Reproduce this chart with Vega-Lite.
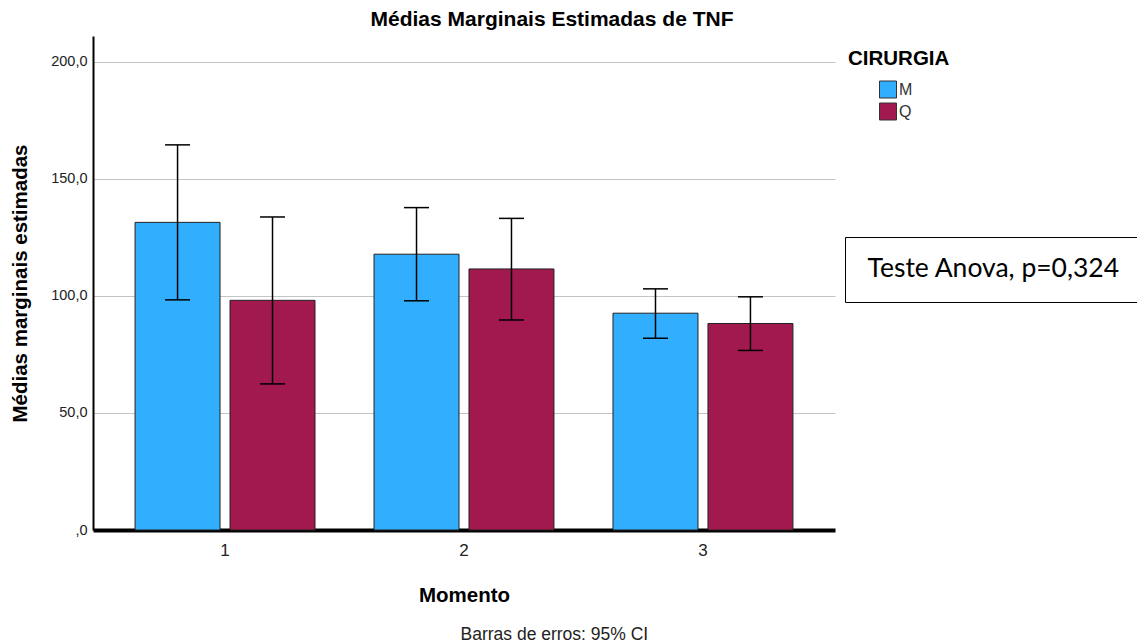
{
  "$schema": "https://vega.github.io/schema/vega-lite/v6.json",
  "width": 742,
  "height": 494,
  "autosize": {"type": "none"},
  "padding": {"left": 93, "top": 36, "right": 302, "bottom": 113},
  "background": "white",
  "title": {
    "text": "Médias Marginais Estimadas de TNF",
    "font": "Liberation Sans",
    "fontSize": 21,
    "fontWeight": "bold",
    "color": "black",
    "anchor": "middle",
    "frame": "group",
    "dx": 88,
    "offset": 6
  },
  "config": {
    "view": {"stroke": null},
    "font": "Liberation Sans"
  },
  "datasets": {
    "medias": [
      {"Momento": "1", "CIRURGIA": "M", "media": 131.4, "inferior": 98.3, "superior": 164.5},
      {"Momento": "1", "CIRURGIA": "Q", "media": 98.1, "inferior": 62.4, "superior": 133.7},
      {"Momento": "2", "CIRURGIA": "M", "media": 117.8, "inferior": 97.9, "superior": 137.7},
      {"Momento": "2", "CIRURGIA": "Q", "media": 111.5, "inferior": 89.7, "superior": 133.1},
      {"Momento": "3", "CIRURGIA": "M", "media": 92.6, "inferior": 81.9, "superior": 103.0},
      {"Momento": "3", "CIRURGIA": "Q", "media": 88.2, "inferior": 76.7, "superior": 99.6}
    ],
    "notas": [
      {"teste": "Teste Anova, p=0,324", "legenda": "Barras de erros: 95% CI"}
    ]
  },
  "resolve": {
    "scale": {"shape": "independent"},
    "legend": {"shape": "independent"}
  },
  "layer": [
    {
      "data": {"name": "medias"},
      "mark": {"type": "bar", "stroke": "#222222", "strokeWidth": 1},
      "encoding": {
        "x": {
          "field": "Momento",
          "type": "nominal",
          "scale": {"paddingInner": 0.247, "paddingOuter": 0.176},
          "axis": {
            "title": "Momento",
            "titleFont": "Liberation Sans",
            "titleFontSize": 20.5,
            "titleFontWeight": "bold",
            "titleColor": "black",
            "titlePadding": 27,
            "labelAngle": 0,
            "labelFont": "Liberation Sans",
            "labelFontSize": 17,
            "labelColor": "#222222",
            "labelPadding": 12,
            "ticks": false,
            "domainColor": "black",
            "domainWidth": 4,
            "grid": false
          }
        },
        "xOffset": {
          "field": "CIRURGIA",
          "type": "nominal",
          "scale": {"paddingInner": 0.105, "paddingOuter": 0}
        },
        "y": {
          "field": "media",
          "type": "quantitative",
          "scale": {"domain": [0, 211], "nice": false, "zero": true},
          "axis": {
            "title": "Médias marginais estimadas",
            "titleFont": "Liberation Sans",
            "titleFontSize": 20.5,
            "titleFontWeight": "bold",
            "titleColor": "black",
            "titlePadding": 20,
            "values": [0, 50, 100, 150, 200],
            "labelExpr": "datum.value == 0 ? ',0' : replace(format(datum.value, '.1f'), '.', ',')",
            "labelFont": "Liberation Sans",
            "labelFontSize": 14.5,
            "labelColor": "#222222",
            "labelPadding": 6,
            "ticks": false,
            "domainColor": "black",
            "domainWidth": 2,
            "grid": true,
            "gridColor": "#c4c4c4",
            "gridWidth": 1
          }
        },
        "fill": {
          "field": "CIRURGIA",
          "type": "nominal",
          "scale": {"domain": ["M", "Q"], "range": ["#31aefe", "#a1194e"]},
          "legend": {
            "title": "CIRURGIA",
            "orient": "none",
            "legendX": 755,
            "legendY": 13,
            "padding": 0,
            "titleFont": "Liberation Sans",
            "titleFontSize": 20.5,
            "titleFontWeight": "bold",
            "titleColor": "black",
            "titlePadding": 11,
            "symbolType": "square",
            "symbolSize": 289,
            "symbolOffset": 31,
            "symbolStrokeColor": "#333333",
            "symbolStrokeWidth": 1,
            "labelFont": "Liberation Sans",
            "labelFontSize": 16,
            "labelColor": "#333333",
            "labelOffset": 2,
            "rowPadding": 0
          }
        }
      }
    },
    {
      "data": {"name": "medias"},
      "mark": {"type": "rule", "color": "black", "strokeWidth": 1.5},
      "encoding": {
        "x": {"field": "Momento", "type": "nominal"},
        "xOffset": {"field": "CIRURGIA", "type": "nominal"},
        "y": {"field": "inferior", "type": "quantitative"},
        "y2": {"field": "superior"}
      }
    },
    {
      "data": {"name": "medias"},
      "mark": {"type": "tick", "color": "black", "thickness": 1.5, "size": 25, "opacity": 1},
      "encoding": {
        "x": {"field": "Momento", "type": "nominal"},
        "xOffset": {"field": "CIRURGIA", "type": "nominal"},
        "y": {"field": "inferior", "type": "quantitative"}
      }
    },
    {
      "data": {"name": "medias"},
      "mark": {"type": "tick", "color": "black", "thickness": 1.5, "size": 25, "opacity": 1},
      "encoding": {
        "x": {"field": "Momento", "type": "nominal"},
        "xOffset": {"field": "CIRURGIA", "type": "nominal"},
        "y": {"field": "superior", "type": "quantitative"}
      }
    },
    {
      "data": {"name": "notas"},
      "mark": {"type": "point", "opacity": 0},
      "encoding": {
        "shape": {
          "field": "teste",
          "type": "nominal",
          "legend": {
            "title": null,
            "orient": "none",
            "legendX": 752,
            "legendY": 201,
            "padding": 19,
            "strokeColor": "black",
            "fillColor": "white",
            "cornerRadius": 0,
            "symbolSize": 0,
            "symbolOpacity": 0,
            "symbolStrokeWidth": 0,
            "labelOffset": -23,
            "labelFont": "Lato",
            "labelFontSize": 26.5,
            "labelColor": "black",
            "labelLimit": 400
          }
        }
      }
    },
    {
      "data": {"name": "notas"},
      "mark": {"type": "point", "opacity": 0},
      "encoding": {
        "shape": {
          "field": "legenda",
          "type": "nominal",
          "legend": {
            "title": null,
            "orient": "none",
            "legendX": 367,
            "legendY": 590,
            "padding": 0,
            "symbolSize": 0,
            "symbolOpacity": 0,
            "symbolStrokeWidth": 0,
            "labelOffset": -17,
            "labelFont": "Liberation Sans",
            "labelFontSize": 17.5,
            "labelColor": "#222222",
            "labelLimit": 400
          }
        }
      }
    }
  ]
}
